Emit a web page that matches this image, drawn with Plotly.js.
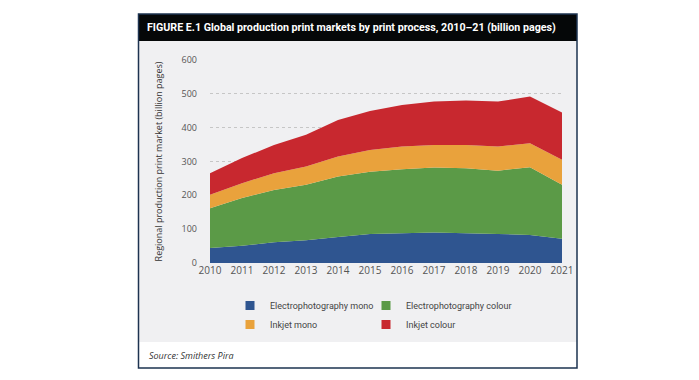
<!DOCTYPE html>
<html>
<head>
<meta charset="utf-8">
<script src="https://cdn.plot.ly/plotly-3.0.1.min.js"></script>
<style>html,body{margin:0;padding:0;background:#fff;}#chart{width:699px;height:380px;}</style>
</head>
<body>
<div id="chart"></div>
<script>
var years = [2010, 2011, 2012, 2013, 2014, 2015, 2016, 2017, 2018, 2019, 2020, 2021];
var epMono = [44, 51, 61, 67, 77, 86, 88, 90, 88, 86, 83, 72];
var epColour = [118, 141, 155, 164, 179, 184, 189, 192, 192, 187, 200, 159];
var inkjetMono = [40, 44, 49, 54, 59, 64, 67, 67, 69, 71, 71, 74];
var inkjetColour = [63, 74, 84, 94, 108, 115, 123, 128, 131, 133, 138, 140];
var seriesNames = ["Electrophotography mono", "Electrophotography colour", "Inkjet mono", "Inkjet colour"];
var seriesColors = ["#2f5590", "#5b9a47", "#e9a23c", "#c8282f"];
var yTicks = [0, 100, 200, 300, 400, 500, 600];

var seriesData = [epMono, epColour, inkjetMono, inkjetColour];
var legendFor = ["legend", "legend2", "legend", "legend2"];
var narrow = "'Liberation Sans Narrow', 'Roboto', 'Open Sans', sans-serif";
var traces = [];
for (var i = 0; i < 4; i++) {
  traces.push({
    type: "scatter", x: years, y: seriesData[i], name: seriesNames[i],
    stackgroup: "one", mode: "none", fill: "tonexty", fillcolor: seriesColors[i],
    line: {width: 0}, showlegend: false, hoverinfo: "x+y+name"
  });
}
var legendOrder = [0, 2, 1, 3];
for (var k = 0; k < 4; k++) {
  var j = legendOrder[k];
  traces.push({
    type: "scatter", x: [null], y: [null], name: seriesNames[j], mode: "markers",
    marker: {symbol: "square", size: 9, color: seriesColors[j]},
    legend: legendFor[j], showlegend: true, hoverinfo: "skip"
  });
}

// pixel -> paper helpers (plot area: x 210..562, y 263..60)
function px(x) { return (x - 210) / 352; }
function py(y) { return (263 - y) / 203; }

var layout = {
  width: 699, height: 380,
  margin: {l: 210, r: 137, t: 60, b: 117},
  paper_bgcolor: "#ffffff",
  plot_bgcolor: "rgba(0,0,0,0)",
  font: {family: "'Open Sans', sans-serif", color: "#444"},
  xaxis: {
    range: [2010, 2021], tickvals: years, ticktext: years.map(String),
    showgrid: false, zeroline: false, showline: false, ticks: "",
    tickfont: {size: 10, color: "#555", family: "'Open Sans', sans-serif"}
  },
  yaxis: {
    range: [0, 600], tickvals: yTicks, showgrid: true, gridcolor: "#c6c6c6",
    griddash: "dot", gridwidth: 1, zeroline: false, showline: false, ticks: "",
    ticklabelstandoff: 12,
    tickfont: {size: 9, color: "#555", family: "'Open Sans', sans-serif"},
    title: {text: "Regional production print market (billion pages)", standoff: 17,
            font: {size: 9, color: "#333", family: "'Open Sans', sans-serif"}}
  },
  showlegend: true,
  legend: {x: px(230), y: py(291), xanchor: "left", yanchor: "top", bgcolor: "rgba(0,0,0,0)",
           traceorder: "normal",
           font: {size: 9, color: "#444", family: narrow}, tracegroupgap: 0, itemwidth: 30},
  legend2: {x: px(366), y: py(291), xanchor: "left", yanchor: "top", bgcolor: "rgba(0,0,0,0)",
           traceorder: "normal",
           font: {size: 9, color: "#444", family: narrow}, tracegroupgap: 0, itemwidth: 30},
  shapes: [
    {type: "rect", xref: "paper", yref: "paper", x0: px(138), x1: px(577), y0: py(41), y1: py(342),
     fillcolor: "#f0f0f2", line: {width: 0}, layer: "below"},
    {type: "rect", xref: "paper", yref: "paper", x0: px(138), x1: px(577), y0: py(14), y1: py(41),
     fillcolor: "#050708", line: {width: 0}, layer: "below"},
    {type: "rect", xref: "paper", yref: "paper", x0: px(138.5), x1: px(577), y0: py(14), y1: py(368),
     fillcolor: "rgba(0,0,0,0)", line: {width: 1.5, color: "#1d3350"}, layer: "above"}
  ],
  annotations: [
    {xref: "paper", yref: "paper", x: px(145), y: py(27.5), xanchor: "left", yanchor: "middle",
     text: "<b>FIGURE E.1 Global production print markets by print process, 2010–21 (billion pages)</b>",
     showarrow: false, font: {size: 10.7, color: "#ffffff", family: narrow}},
    {xref: "paper", yref: "paper", x: px(147), y: py(355), xanchor: "left", yanchor: "middle",
     text: "<i>Source: Smithers Pira</i>", showarrow: false,
     font: {size: 9, color: "#333", family: "'Open Sans', sans-serif"}}
  ]
};

Plotly.newPlot("chart", traces, layout, {displayModeBar: false, staticPlot: true});
</script>
</body>
</html>
